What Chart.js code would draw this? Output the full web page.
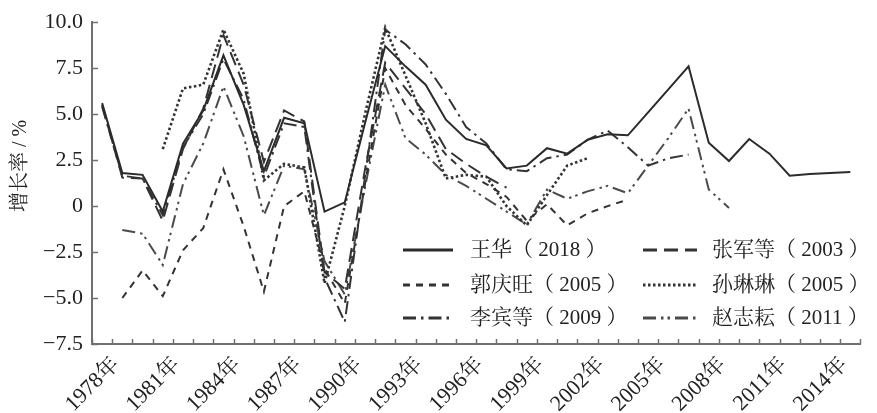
<!DOCTYPE html>
<html>
<head>
<meta charset="utf-8">
<script src="https://cdn.jsdelivr.net/npm/chart.js@4.4.1/dist/chart.umd.min.js"></script>
<style>
html, body { margin: 0; padding: 0; background: #fff; }
#wrap { width: 877px; height: 413px; }
</style>
</head>
<body>
<div id="wrap"><canvas id="c" width="877" height="413"></canvas></div>
<script>
// Years on the category axis
const years = ['1978年','1979年','1980年','1981年','1982年','1983年','1984年','1985年','1986年','1987年',
  '1988年','1989年','1990年','1991年','1992年','1993年','1994年','1995年','1996年','1997年',
  '1998年','1999年','2000年','2001年','2002年','2003年','2004年','2005年','2006年','2007年',
  '2008年','2009年','2010年','2011年','2012年','2013年','2014年','2015年'];

// Years that carry a visible tick label
const xTickLabels = ['1978年','1981年','1984年','1987年','1990年','1993年','1996年','1999年',
  '2002年','2005年','2008年','2011年','2014年'];

// Y axis ticks
const yTickValues = [-7.5, -5, -2.5, 0, 2.5, 5, 7.5, 10];
const yTickLabels = ['\u22127.5', '\u22125.0', '\u22122.5', '0', '2.5', '5.0', '7.5', '10.0'];

// Series names
const seriesNames = ['王华（ 2018 ）', '张军等（ 2003 ）', '郭庆旺（ 2005 ）', '孙琳琳（ 2005 ）', '李宾等（ 2009 ）', '赵志耘（ 2011 ）'];

// TFP growth estimates, %, 1978-2015 (null where a study has no value)
const wangHua = [5.6, 1.8, 1.7, -0.3, 3.4, 5.2, 8.2, 5.5, 1.9, 4.8,
  4.5, -0.3, 0.2, 4.5, 8.7, 7.6, 6.6, 4.7, 3.65, 3.3,
  2.05, 2.2, 3.15, 2.85, 3.6, 3.9, 3.85, 5.1, 6.35, 7.6,
  3.45, 2.45, 3.65, 2.85, 1.65, 1.75, 1.8, 1.85];

const zhangJun = [5.5, 1.55, 1.5, -0.8, 3.1, 5.3, 9.3, 6.6, 2.4, 5.2,
  4.6, -3.6, -4.5, 2.0, 7.8, 6.4, 5.0, 3.1, 2.3, 1.6,
  1.0, null, null, null, null, null, null, null, null, null,
  null, null, null, null, null, null, null, null];

const guoQingwang = [null, -5.0, -3.5, -4.9, -2.4, -1.2, 2.0, -1.1, -4.65, 0.0,
  0.8, -3.4, -5.3, 1.2, 7.5, 5.5, 4.2, 2.8, 1.8, 1.2,
  0.5, -0.8, 0.1, -1.05, -0.4, 0.0, 0.35, null, null, null,
  null, null, null, null, null, null, null, null];

const sunLinlin = [null, null, null, 3.1, 6.4, 6.6, 9.6, 7.2, 1.4, 2.3,
  2.1, -4.2, 0.0, 5.0, 9.7, 7.1, 4.5, 1.5, 1.7, 1.6,
  0.0, -1.05, 0.6, 2.2, 2.6, null, null, null, null, null,
  null, null, null, null, null, null, null, null];

const liBin = [5.4, 1.65, 1.5, -0.5, 3.2, 5.0, 8.0, 5.8, 1.6, 4.5,
  4.3, -3.9, -6.3, 1.6, 9.6, 8.8, 7.7, 6.1, 4.3, 3.4,
  2.0, 1.9, 2.6, 2.8, 3.6, 4.1, 3.2, 2.2, 2.6, 2.8,
  null, null, null, null, null, null, null, null];

const zhaoZhiyun = [null, -1.3, -1.5, -3.2, 1.2, 3.4, 6.5, 3.8, -0.5, 2.2,
  2.0, -3.0, -4.8, 1.0, 6.6, 3.7, 2.8, 1.7, 1.1, 0.4,
  -0.3, -1.0, 0.9, 0.4, 0.8, 1.1, 0.7, 2.2, 3.7, 5.3,
  0.9, -0.1, null, null, null, null, null, null];

const FONT = '"Liberation Serif", "Noto Serif CJK SC", "Noto Sans CJK SC", serif';
const AXIS_COLOR = '#707070';

const styles = [
  { color: '#2b2b2b', dash: [] },
  { color: '#333333', dash: [14, 7] },
  { color: '#333333', dash: [7, 6] },
  { color: '#333333', dash: [2.5, 2.5] },
  { color: '#333333', dash: [13, 5, 2.5, 5] },
  { color: '#4a4a4a', dash: [13, 5, 2.5, 4, 2.5, 5] }
];
const seriesData = [wangHua, zhangJun, guoQingwang, sunLinlin, liBin, zhaoZhiyun];

const datasets = seriesData.map((d, i) => ({
  label: seriesNames[i],
  data: d,
  borderColor: styles[i].color,
  borderDash: styles[i].dash,
  borderWidth: i === 3 ? 2.6 : 2,
  pointRadius: 0,
  pointHoverRadius: 0,
  tension: 0,
  spanGaps: false,
  fill: false
}));

// Inward tick marks, axis title and the two-column legend
const decor = {
  id: 'decor',
  afterDraw(chart) {
    const ctx = chart.ctx;
    const a = chart.chartArea;
    const ys = chart.scales.y;
    ctx.save();
    ctx.strokeStyle = AXIS_COLOR;
    ctx.lineWidth = 1.5;
    ctx.setLineDash([]);
    // y ticks pointing into the plot
    yTickValues.forEach(v => {
      const y = Math.round(ys.getPixelForValue(v)) + 0.5;
      ctx.beginPath(); ctx.moveTo(a.left, y); ctx.lineTo(a.left + 6, y); ctx.stroke();
    });
    // x ticks on category boundaries
    const n = years.length;
    for (let i = 0; i <= n; i++) {
      const x = Math.round(a.left + (a.right - a.left) * i / n) + 0.5;
      ctx.beginPath(); ctx.moveTo(x, a.bottom); ctx.lineTo(x, a.bottom - 5); ctx.stroke();
    }
    // axis title
    ctx.fillStyle = '#222';
    ctx.font = '20px ' + FONT;
    ctx.translate(21, 166);
    ctx.rotate(-Math.PI / 2);
    ctx.textAlign = 'center';
    ctx.textBaseline = 'middle';
    ctx.fillText('增长率 / %', 0, 0);
    ctx.restore();

    // legend
    const cols = [{ x0: 403, x1: 453, tx: 470 }, { x0: 643, x1: 697, tx: 712 }];
    const rows = [250, 285, 318];
    ctx.save();
    ctx.font = '21px ' + FONT;
    ctx.textAlign = 'left';
    ctx.textBaseline = 'middle';
    chart.data.datasets.forEach((ds, i) => {
      const c = cols[i % 2], y = rows[Math.floor(i / 2)];
      ctx.strokeStyle = ds.borderColor;
      ctx.lineWidth = 3;
      ctx.setLineDash(ds.borderDash || []);
      ctx.beginPath(); ctx.moveTo(c.x0, y); ctx.lineTo(c.x1, y); ctx.stroke();
      ctx.setLineDash([]);
      ctx.fillStyle = '#222';
      ctx.fillText(ds.label, c.tx, y);
    });
    ctx.restore();
  }
};

new Chart(document.getElementById('c'), {
  type: 'line',
  data: { labels: years, datasets },
  options: {
    responsive: false,
    devicePixelRatio: 1,
    animation: false,
    events: [],
    layout: { padding: { top: 19, right: 1, left: 0, bottom: 0 } },
    plugins: { legend: { display: false }, tooltip: { enabled: false }, title: { display: false } },
    scales: {
      x: {
        type: 'category',
        offset: true,
        grid: { display: false, drawTicks: false },
        border: { display: true, color: AXIS_COLOR, width: 2 },
        ticks: {
          autoSkip: false,
          minRotation: 45,
          maxRotation: 45,
          padding: 8,
          labelOffset: 14,
          color: '#222',
          font: { family: FONT, size: 22 },
          callback: (v, i) => xTickLabels.includes(years[i]) ? years[i] : ''
        },
        afterFit: s => { s.height = 69; }
      },
      y: {
        min: -7.5,
        max: 10,
        grid: { display: false, drawTicks: false },
        border: { display: true, color: AXIS_COLOR, width: 2 },
        ticks: {
          stepSize: 2.5,
          padding: 9,
          color: '#222',
          font: { family: FONT, size: 22 },
          callback: v => {
            const k = yTickValues.indexOf(v);
            return k >= 0 ? yTickLabels[k] : '';
          }
        },
        afterFit: s => { s.width = 92; }
      }
    }
  },
  plugins: [decor]
});
</script>
</body>
</html>
